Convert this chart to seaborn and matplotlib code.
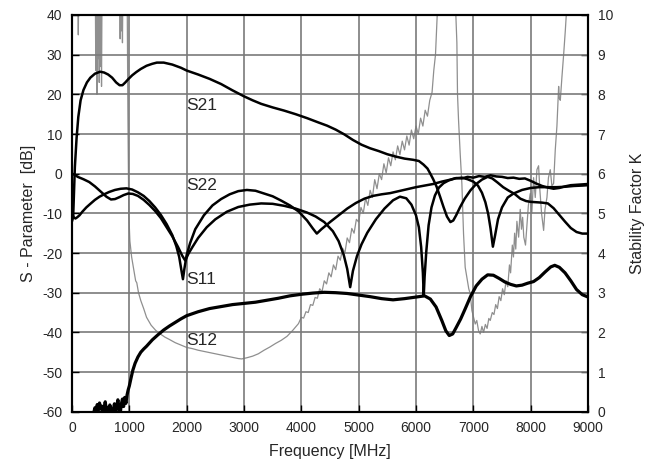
import numpy as np
import pandas as pd
import seaborn as sns
import matplotlib.pyplot as plt

# S21 [dB]
s21_f = [0, 20, 50, 80, 110, 150, 200, 260, 320, 400, 490, 560, 630, 700, 770, 830, 880, 930, 980,
         1050, 1120, 1200, 1300, 1400, 1480, 1600, 1750, 1900, 2000, 2200, 2400, 2600, 2800, 3000,
         3150, 3300, 3500, 3700, 3900, 4100, 4300, 4450, 4600, 4750, 4900, 5050, 5200, 5350, 5500,
         5650, 5800, 5950, 6050, 6130, 6200, 6250, 6300, 6360, 6420, 6480, 6540, 6600, 6650, 6700,
         6770, 6850, 6950, 7050, 7150, 7250, 7330, 7420, 7520, 7620, 7720, 7820, 7920, 8000, 8100,
         8200, 8300, 8400, 8500, 8600, 8700, 8800, 8900, 9000]
s21_db = [-12, -11, 1.7, 9, 14.3, 18.5, 21.1, 23.0, 24.2, 25.2, 25.7, 25.5, 25.0, 24.2, 23.0, 22.3, 22.3,
          23.0, 23.8, 24.8, 25.6, 26.4, 27.2, 27.7, 28.0, 28.0, 27.5, 26.7, 26.0, 25.0, 23.9, 22.6, 21.0,
          19.5, 18.5, 17.6, 16.7, 15.9, 15.0, 14.0, 12.9, 12.1, 11.1, 9.9, 8.5, 7.3, 6.4, 5.7, 4.9,
          4.3, 3.8, 3.5, 3.2, 2.3, 1.3, 0.0, -1.4, -3.3, -5.8, -8.4, -10.8, -12.2, -11.8, -10.5,
          -8.4, -6.3, -4.2, -2.6, -1.5, -0.8, -1.2, -2.2, -3.4, -4.3, -5.1, -6.3, -6.9, -7.1, -7.2,
          -7.3, -7.5, -8.7, -10.4, -12.1, -13.7, -14.7, -15.1, -15.1]

# S11 [dB]
s11_f = [0, 30, 60, 90, 130, 180, 250, 320, 400, 480, 560, 650, 750, 850, 950, 1050, 1150, 1250,
         1350, 1450, 1550, 1650, 1750, 1820, 1870, 1910, 1935, 1960, 2000, 2060, 2150, 2300, 2450,
         2600, 2750, 2900, 3050, 3200, 3350, 3500, 3650, 3800, 3950, 4100, 4200, 4270, 4350, 4500,
         4650, 4800, 4950, 5100, 5250, 5400, 5550, 5700, 5850, 6000, 6150, 6300, 6450, 6600, 6700,
         6800, 6900, 7000, 7100, 7200, 7300, 7400, 7500, 7600, 7700, 7800, 7900, 8000, 8100, 8200,
         8300, 8400, 8500, 8600, 8700, 8800, 8900, 9000]
s11_db = [-10.0, -11.0, -11.3, -11.0, -10.5, -9.6, -8.5, -7.6, -6.6, -5.8, -5.2, -4.6, -4.1, -3.8, -3.7,
          -4.0, -4.7, -5.6, -6.9, -8.5, -10.4, -12.7, -15.5, -18.3, -21.0, -24.5, -26.6, -24.0, -20.5,
          -17.5, -14.0, -10.5, -8.0, -6.4, -5.2, -4.4, -4.1, -4.3, -5.0, -5.7, -6.8, -8.0, -9.5, -11.8,
          -13.8, -15.1, -14.0, -12.2, -10.5, -8.8, -7.4, -6.3, -5.6, -5.2, -4.9, -4.4, -3.9, -3.4, -3.0,
          -2.6, -2.0, -1.5, -1.1, -1.2, -0.8, -1.0, -0.6, -0.8, -0.4, -0.7, -0.8, -1.1, -1.0, -1.3,
          -1.2, -1.8, -2.5, -3.1, -3.5, -3.8, -3.6, -3.2, -2.9, -2.8, -2.7, -2.6]

# S22 [dB]
s22_f = [0, 50, 100, 200, 300, 400, 500, 600, 680, 750, 830, 900, 980, 1060, 1150, 1250, 1350, 1450,
         1550, 1650, 1750, 1850, 1920, 1975, 2030, 2100, 2200, 2350, 2500, 2700, 2900, 3100, 3300,
         3500, 3700, 3900, 4100, 4250, 4400, 4550, 4650, 4740, 4800, 4852, 4900, 4970, 5050, 5150,
         5300, 5450, 5600, 5720, 5830, 5920, 6000, 6050, 6090, 6120, 6135, 6150, 6180, 6220, 6270,
         6330, 6400, 6480, 6570, 6680, 6800, 6900, 7000, 7080, 7150, 7210, 7260, 7300, 7341, 7380,
         7430, 7500, 7600, 7700, 7850, 8000, 8150, 8300, 8450, 8600, 8750, 8900, 9000]
s22_db = [0.0, -0.3, -0.8, -1.4, -2.1, -3.2, -4.5, -5.8, -6.5, -6.4, -5.9, -5.4, -5.0, -5.1, -5.6, -6.6,
          -7.9, -9.4, -11.2, -13.5, -15.8, -18.5, -20.6, -21.9, -20.2, -18.5, -16.2, -13.5, -11.5, -9.6,
          -8.4, -7.8, -7.5, -7.6, -8.1, -8.8, -9.8, -10.8, -12.2, -14.5, -17.0, -20.5, -24.0, -28.6,
          -24.5, -20.8, -17.8, -14.9, -11.5, -8.8, -6.7, -5.8, -6.2, -7.8, -10.5, -13.5, -18.5, -25.0,
          -30.8, -26.0, -19.5, -13.0, -8.5, -5.5, -3.5, -2.4, -1.7, -1.2, -1.0, -1.4, -2.0, -3.0, -4.8,
          -7.2, -10.2, -13.8, -18.4, -15.5, -11.5, -8.5, -6.0, -5.0, -4.1, -3.6, -3.4, -3.4, -3.4,
          -3.3, -3.1, -3.0, -2.9]

# S12 [dB]
s12_f = [350, 380, 400, 420, 440, 460, 480, 500, 520, 540, 560, 580, 600, 620, 640, 660, 680, 700,
         720, 740, 760, 780, 800, 820, 840, 860, 880, 900, 920, 940, 960, 980, 1000, 1030, 1060, 1100,
         1150, 1200, 1250, 1300, 1400, 1500, 1600, 1700, 1800, 1900, 2000, 2200, 2400, 2600, 2800,
         3000, 3200, 3400, 3600, 3800, 4000, 4200, 4400, 4600, 4800, 5000, 5200, 5400, 5600, 5800,
         6000, 6150, 6250, 6350, 6450, 6520, 6580, 6640, 6700, 6780, 6860, 6950, 7050, 7150, 7250,
         7350, 7450, 7550, 7650, 7750, 7850, 7950, 8050, 8150, 8250, 8350, 8420, 8500, 8600, 8700,
         8800, 8900, 9000]
s12_db = [-61, -60.2, -59.0, -60.5, -58.2, -59.6, -57.8, -59.3, -58.6, -60.8, -59.0, -57.5, -59.8, -58.9,
          -60.5, -58.3, -59.6, -61, -59.5, -58.0, -60.2, -58.8, -57.0, -59.2, -60.6, -58.1, -56.8,
          -58.7, -56.4, -57.9, -55.8, -54.5, -53.5, -51.5, -49.6, -47.8, -46.2, -45.0, -44.2, -43.5,
          -41.9, -40.6, -39.4, -38.4, -37.5, -36.6, -35.8, -34.8, -34.0, -33.5, -33.0, -32.7, -32.4,
          -31.9, -31.4, -30.8, -30.4, -30.1, -29.9, -30.0, -30.2, -30.6, -31.0, -31.5, -31.8, -31.5,
          -31.1, -30.8, -31.6, -33.6, -37.0, -39.6, -40.8, -40.4, -38.8, -36.6, -34.0, -31.0, -28.3,
          -26.6, -25.5, -25.6, -26.4, -27.3, -27.9, -28.3, -28.1, -27.6, -27.2, -26.2, -24.8, -23.5,
          -23.1, -23.6, -25.0, -27.0, -29.2, -30.5, -31.1]

# stability factor K (values above 10 run off the top)
k_f = [0, 60, 100, 110, 120, 300, 405, 415, 425, 435, 445, 455, 465, 475, 485, 495, 505, 515, 525,
       830, 840, 850, 860, 870, 880, 890, 900, 940, 960, 975, 990, 1010, 1040, 1080, 1110, 1130, 1160,
       1200, 1250, 1300, 1380, 1460, 1540, 1620, 1700, 1800, 1900, 2000, 2100, 2200, 2300, 2400, 2500,
       2600, 2700, 2800, 2900, 2960, 3050, 3150, 3250, 3350, 3450, 3550, 3650, 3750, 3850, 3950,
       4000, 4040, 4080, 4120, 4160, 4200, 4240, 4280, 4320, 4360, 4400, 4440, 4480, 4520, 4560,
       4600, 4640, 4680, 4720, 4760, 4800, 4840, 4880, 4920, 4960, 5000, 5040, 5080, 5120, 5160,
       5200, 5240, 5280, 5320, 5360, 5400, 5440, 5480, 5520, 5560, 5600, 5640, 5680, 5720, 5760,
       5800, 5840, 5880, 5920, 5960, 6000, 6040, 6080, 6120, 6160, 6200, 6240, 6280, 6310, 6340,
       6370, 6400, 6680, 6695, 6713, 6724, 6742, 6771, 6800, 6829, 6858, 6887, 6920,
       6946, 6975, 7000, 7033, 7060, 7090, 7120, 7150, 7178, 7210, 7240, 7270, 7295, 7330, 7360,
       7390, 7420, 7450, 7480, 7510, 7540, 7570, 7600, 7630, 7650, 7680, 7700, 7720, 7740, 7760,
       7790, 7818, 7840, 7860, 7880, 7910, 7935, 7960, 7993, 8020, 8051, 8080, 8109, 8138, 8160,
       8190, 8226, 8250, 8284, 8310, 8342, 8370, 8400, 8429, 8458, 8488, 8500, 8517, 8546, 8575,
       8604, 8621, 8650, 9000]
k_val = [11, 11, 11, 9.5, 11, 11, 11, 8.6, 11, 8.0, 10.5, 8.9, 11, 8.3, 11, 8.7, 10.2, 8.2, 11,
         11, 9.4, 11, 9.6, 11, 9.3, 11, 11, 11, 11, 7.5, 5.0, 4.3, 3.9, 3.55, 3.3, 3.25, 3.0,
         2.8, 2.6, 2.38, 2.18, 2.05, 1.96, 1.88, 1.82, 1.74, 1.68, 1.62, 1.59, 1.55, 1.52, 1.49, 1.46,
         1.43, 1.40, 1.37, 1.34, 1.33, 1.36, 1.40, 1.46, 1.55, 1.63, 1.72, 1.80, 1.90, 2.05, 2.22,
         2.38, 2.36, 2.52, 2.50, 2.70, 2.68, 2.88, 2.86, 3.10, 3.02, 3.30, 3.22, 3.50, 3.40, 3.70,
         3.58, 3.92, 3.82, 4.12, 4.00, 4.38, 4.26, 4.62, 4.50, 4.85, 4.78, 5.15, 5.00, 5.38, 5.20,
         5.58, 5.40, 5.85, 5.62, 6.00, 5.85, 6.25, 6.02, 6.40, 6.20, 6.55, 6.35, 6.70, 6.48, 6.82,
         6.60, 6.95, 6.72, 7.10, 6.88, 7.20, 7.00, 7.40, 7.20, 7.60, 7.45, 7.85, 8.05, 8.60, 9.00,
         10.0, 11, 11, 10.0, 9.3, 8.0, 7.35, 6.50, 5.75, 4.49, 3.64, 3.39, 3.10,
         2.97, 2.55, 2.40, 2.21, 2.30, 2.05, 1.96, 2.15, 2.00, 2.20, 2.10, 2.35, 2.30, 2.50, 2.45,
         2.70, 2.60, 2.90, 2.80, 3.10, 2.95, 3.30, 3.15, 3.70, 3.50, 4.20, 3.90, 4.50, 4.10, 4.80,
         4.40, 5.10, 4.60, 4.90, 4.40, 4.20, 4.70, 5.20, 5.50, 5.00, 5.90, 5.40, 6.10, 6.20, 5.60,
         5.00, 4.57, 5.10, 5.40, 5.90, 6.10, 5.70, 5.75, 6.60, 7.20, 8.20, 7.90, 7.85, 8.45, 9.00,
         9.60, 10.0, 11, 11]

x_ticks = list(range(0, 9001, 1000))
db_ticks = list(range(-60, 41, 10))
k_ticks = list(range(0, 11))

sns.set_theme(style="white")
plt.rcParams['font.family'] = ['Liberation Sans', 'DejaVu Sans']
plt.rcParams['axes.unicode_minus'] = False

fig = plt.figure(figsize=(6.45, 4.72), dpi=100)
ax = fig.add_axes([72 / 645, 1 - 411.7 / 472, 516 / 645, 396.7 / 472])
ax2 = ax.twinx()

# K curve sits underneath the S-parameters
ax.set_zorder(ax2.get_zorder() + 1)
ax.patch.set_visible(False)

sns.lineplot(x=k_f, y=k_val, ax=ax2, color='#8f8f8f', lw=0.9, estimator=None, sort=False)

for f, v, w in [(s21_f, s21_db, 1.8), (s11_f, s11_db, 1.8), (s22_f, s22_db, 1.8), (s12_f, s12_db, 2.3)]:
    sns.lineplot(x=f, y=v, ax=ax, color='black', lw=w, estimator=None, sort=False)

ax.set_xlim(0, 9000)
ax.set_ylim(-60, 40)
ax2.set_ylim(0, 10)
ax.set_xticks(x_ticks)
ax.set_yticks(db_ticks)
ax2.set_yticks(k_ticks)

ax.grid(True, color='#7a7a7a', lw=1.2)
ax2.grid(False)
for sp in ax.spines.values():
    sp.set_color('black')
    sp.set_linewidth(1.5)
for sp in ax2.spines.values():
    sp.set_color('black')
    sp.set_linewidth(1.5)

ax.tick_params(axis='both', direction='in', length=5, width=1, color='black',
               labelsize=10, pad=7, left=True, bottom=True)
ax2.tick_params(axis='y', direction='in', length=5, width=1, color='black',
                labelsize=10, pad=7, right=True)

ax.text(2000, 17.3, 'S21', ha='left', va='center', fontsize=12.5)
ax.text(2000, -2.9, 'S22', ha='left', va='center', fontsize=12.5)
ax.text(2000, -26.7, 'S11', ha='left', va='center', fontsize=12.5)
ax.text(2000, -42.1, 'S12', ha='left', va='center', fontsize=12.5)

ax.set_xlabel('Frequency [MHz]', fontsize=11.5, labelpad=6)
ax.set_ylabel('S - Parameter  [dB]', fontsize=11.5, labelpad=4)
ax2.set_ylabel('Stability Factor K', fontsize=11.5, labelpad=12)

fig.savefig('out.png', dpi=100)
